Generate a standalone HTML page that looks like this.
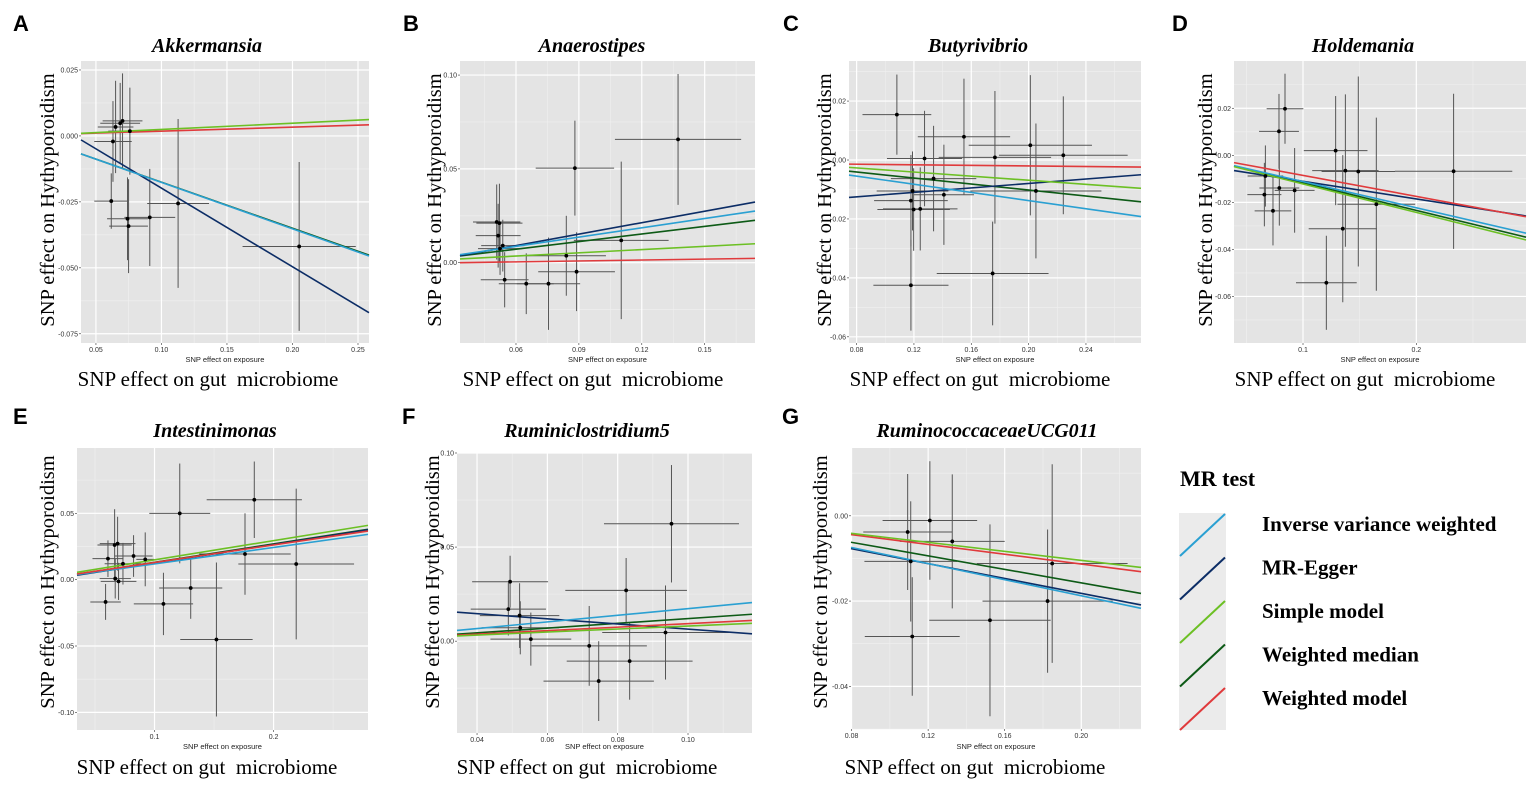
<!DOCTYPE html>
<html><head><meta charset="utf-8">
<style>
html,body{margin:0;padding:0;background:#fff;width:1535px;height:789px;overflow:hidden;}
svg{display:block;}
svg text{font-family:"Liberation Sans",sans-serif;}
.serif{font-family:"Liberation Serif",serif !important;white-space:pre;}
</style></head>
<body>
<svg id="fig" width="1535" height="789" viewBox="0 0 1535 789" xmlns="http://www.w3.org/2000/svg"></svg>
<script>
// ---- Panel A: Akkermansia ----
const aX=[0.065,0.0685,0.0703,0.0759,0.063,0.0617,0.0741,0.0749,0.0911,0.1127,0.2051];
const aY=[0.0034,0.0048,0.0057,0.0018,-0.0021,-0.0247,-0.0314,-0.0342,-0.0309,-0.0256,-0.0419];
const aXse=[0.0136,0.0152,0.0152,0.0165,0.0143,0.013,0.0156,0.0148,0.0194,0.0236,0.0432];
const aYse=[0.0175,0.0153,0.018,0.0165,0.0153,0.0105,0.0157,0.0178,0.0184,0.032,0.032];
const aLineStart=[-0.0068,-0.0015,0.001,-0.0068,0.0009];
const aLineEnd=[-0.0455,-0.067,0.0062,-0.0452,0.0042];
const aXticks=[0.05,0.10,0.15,0.20,0.25];
const aXlabels=["0.05","0.10","0.15","0.20","0.25"];
const aYticks=[-0.075,-0.05,-0.025,0,0.025];
const aYlabels=["-0.075","-0.050","-0.025","0.000","0.025"];
// ---- Panel B: Anaerostipes ----
const bX=[0.0508,0.0521,0.0515,0.0537,0.0524,0.0546,0.0649,0.0755,0.084,0.0881,0.0889,0.1102,0.1373];
const bY=[0.0217,0.0211,0.0144,0.0091,0.0075,-0.0091,-0.0112,-0.0112,0.0037,0.0504,-0.0048,0.0119,0.0657];
const bXse=[0.0113,0.011,0.0107,0.0103,0.0105,0.0114,0.0131,0.0151,0.0189,0.0187,0.0183,0.0226,0.0301];
const bYse=[0.02,0.021,0.017,0.0138,0.014,0.0147,0.0162,0.0246,0.0213,0.0253,0.021,0.042,0.0349];
const bLineStart=[0.0043,0.0037,0.002,0.0036,0.0];
const bLineEnd=[0.0275,0.0323,0.0101,0.0226,0.0023];
const bXticks=[0.06,0.09,0.12,0.15];
const bXlabels=["0.06","0.09","0.12","0.15"];
const bYticks=[0,0.05,0.10];
const bYlabels=["0.00","0.05","0.10"];
// ---- Panel C: Butyrivibrio ----
const cX=[0.1081,0.1274,0.1337,0.119,0.1179,0.1198,0.1244,0.1409,0.1179,0.1549,0.1765,0.1749,0.2012,0.2051,0.2242];
const cY=[0.0154,0.0005,-0.0063,-0.0105,-0.0138,-0.0168,-0.0166,-0.0118,-0.0425,0.0079,0.0009,-0.0385,0.005,-0.0105,0.0016];
const cXse=[0.024,0.0262,0.0298,0.025,0.0257,0.0253,0.026,0.021,0.0262,0.0322,0.0392,0.039,0.043,0.0457,0.0449];
const cYse=[0.0136,0.0162,0.0179,0.0134,0.0155,0.014,0.0141,0.017,0.0154,0.0197,0.0225,0.0176,0.0238,0.0229,0.02];
const cLineStart=[-0.0051,-0.0127,-0.0025,-0.0038,-0.0014];
const cLineEnd=[-0.0192,-0.005,-0.0096,-0.0142,-0.0024];
const cXticks=[0.08,0.12,0.16,0.20,0.24];
const cXlabels=["0.08","0.12","0.16","0.20","0.24"];
const cYticks=[-0.06,-0.04,-0.02,0,0.02];
const cYlabels=["-0.06","-0.04","-0.02","0.00","0.02"];
// ---- Panel D: Holdemania ----
const dX=[0.0841,0.0788,0.0668,0.0659,0.0791,0.0926,0.0735,0.1288,0.1374,0.1488,0.1647,0.1351,0.1206,0.2329];
const dY=[0.0198,0.0102,-0.0088,-0.0167,-0.0139,-0.0149,-0.0236,0.002,-0.0065,-0.0069,-0.0208,-0.0312,-0.0542,-0.0068];
const dXse=[0.0162,0.0176,0.0157,0.015,0.0176,0.0176,0.0162,0.0281,0.0293,0.0324,0.0343,0.0301,0.0268,0.0518];
const dYse=[0.0149,0.0159,0.013,0.0135,0.016,0.018,0.0147,0.0232,0.0324,0.0404,0.0368,0.0313,0.02,0.033];
const dLineStart=[-0.0044,-0.0065,-0.0048,-0.0045,-0.0031];
const dLineEnd=[-0.0331,-0.0258,-0.036,-0.0348,-0.0261];
const dXticks=[0.1,0.2];
const dXlabels=["0.1","0.2"];
const dYticks=[-0.06,-0.04,-0.02,0,0.02];
const dYlabels=["-0.06","-0.04","-0.02","0.00","0.02"];
// ---- Panel E: Intestinimonas ----
const eX=[0.0589,0.0609,0.0665,0.069,0.067,0.0698,0.0735,0.0824,0.0922,0.1212,0.1075,0.1304,0.152,0.176,0.1838,0.219];
const eY=[-0.0168,0.0158,0.0261,0.0271,0.0008,-0.0013,0.012,0.0178,0.0153,0.0499,-0.0183,-0.0063,-0.0451,0.0193,0.0602,0.0118];
const eXse=[0.0128,0.013,0.0144,0.015,0.0131,0.015,0.0154,0.016,0.0075,0.0256,0.0249,0.0265,0.0304,0.0384,0.04,0.0486];
const eYse=[0.0135,0.0138,0.027,0.0203,0.015,0.014,0.0157,0.0157,0.0203,0.0376,0.0235,0.0232,0.058,0.0307,0.0288,0.0568];
const eLineStart=[0.0038,0.0033,0.0055,0.004,0.0043];
const eLineEnd=[0.0341,0.0376,0.0409,0.0379,0.0366];
const eXticks=[0.1,0.2];
const eXlabels=["0.1","0.2"];
const eYticks=[-0.10,-0.05,0,0.05];
const eYlabels=["-0.10","-0.05","0.00","0.05"];
// ---- Panel F: Ruminiclostridium5 ----
const fX=[0.0494,0.0489,0.0521,0.0523,0.0553,0.0719,0.0746,0.0834,0.0824,0.0936,0.0953];
const fY=[0.0316,0.017,0.0136,0.0071,0.0011,-0.0025,-0.0212,-0.0106,0.027,0.0046,0.0624];
const fXse=[0.0108,0.0107,0.0113,0.011,0.0115,0.0164,0.0157,0.0179,0.0173,0.018,0.0192];
const fYse=[0.0138,0.014,0.0172,0.0141,0.0141,0.0212,0.0212,0.0205,0.0172,0.025,0.0312];
const fLineStart=[0.0057,0.0154,0.0028,0.0037,0.0032];
const fLineEnd=[0.0205,0.0039,0.0095,0.0143,0.011];
const fXticks=[0.04,0.06,0.08,0.10];
const fXlabels=["0.04","0.06","0.08","0.10"];
const fYticks=[0,0.05,0.10];
const fYlabels=["0.00","0.05","0.10"];
// ---- Panel G: RuminococcaceaeUCG011 ----
const gX=[0.1093,0.1209,0.1326,0.1109,0.1117,0.1523,0.1824,0.1848];
const gY=[-0.0038,-0.0011,-0.006,-0.0107,-0.0283,-0.0245,-0.02,-0.0112];
const gXse=[0.0232,0.0247,0.0274,0.0242,0.0248,0.0317,0.034,0.0394];
const gYse=[0.0136,0.0139,0.0157,0.0141,0.0139,0.0225,0.0168,0.0233];
const gLineStart=[-0.0074,-0.0077,-0.0041,-0.0062,-0.0044];
const gLineEnd=[-0.0217,-0.0209,-0.0121,-0.0182,-0.0131];
const gXticks=[0.08,0.12,0.16,0.20];
const gXlabels=["0.08","0.12","0.16","0.20"];
const gYticks=[-0.04,-0.02,0];
const gYlabels=["-0.04","-0.02","0.00"];

const methods=["Inverse variance weighted","MR-Egger","Simple model","Weighted median","Weighted model"];
const colors=["#2aa0d2","#0c2d66","#6cc024","#0d5a16","#e03a3c"];
const drawOrder=[3,1,0,4,2];

const NS="http://www.w3.org/2000/svg";
const svg=document.getElementById('fig');
function mk(tag,attrs,parent){const e=document.createElementNS(NS,tag);for(const k in attrs)e.setAttribute(k,attrs[k]);(parent||svg).appendChild(e);return e;}

const panels=[
 {id:'a',letter:'A',title:'Akkermansia',lx:13,ly:31,tx:207,ty:52,ytx:45,yty:200,sub:362,bot:386,bx:208,
  r:[81,61,369,343],xd:[0.0386,0.2584],yd:[-0.0785,0.0284],X:aX,Y:aY,XS:aXse,YS:aYse,L0:aLineStart,L1:aLineEnd,xt:aXticks,xl:aXlabels,yt:aYticks,yl:aYlabels},
 {id:'b',letter:'B',title:'Anaerostipes',lx:403,ly:31,tx:592,ty:52,ytx:432,yty:200,sub:362,bot:386,bx:593,
  r:[460,61,755,343],xd:[0.0333,0.174],yd:[-0.0428,0.1075],X:bX,Y:bY,XS:bXse,YS:bYse,L0:bLineStart,L1:bLineEnd,xt:bXticks,xl:bXlabels,yt:bYticks,yl:bYlabels},
 {id:'c',letter:'C',title:'Butyrivibrio',lx:783,ly:31,tx:978,ty:52,ytx:822,yty:200,sub:362,bot:386,bx:980,
  r:[849,61,1141,343],xd:[0.0747,0.2784],yd:[-0.0621,0.0336],X:cX,Y:cY,XS:cXse,YS:cYse,L0:cLineStart,L1:cLineEnd,xt:cXticks,xl:cXlabels,yt:cYticks,yl:cYlabels},
 {id:'d',letter:'D',title:'Holdemania',lx:1172,ly:31,tx:1363,ty:52,ytx:1203,yty:200,sub:362,bot:386,bx:1365,
  r:[1234,61,1526,343],xd:[0.0391,0.2968],yd:[-0.0798,0.0401],X:dX,Y:dY,XS:dXse,YS:dYse,L0:dLineStart,L1:dLineEnd,xt:dXticks,xl:dXlabels,yt:dYticks,yl:dYlabels},
 {id:'e',letter:'E',title:'Intestinimonas',lx:13,ly:424,tx:215,ty:437,ytx:45,yty:582,sub:749,bot:774,bx:207,
  r:[77,448,368,730],xd:[0.0349,0.2793],yd:[-0.1133,0.0992],X:eX,Y:eY,XS:eXse,YS:eYse,L0:eLineStart,L1:eLineEnd,xt:eXticks,xl:eXlabels,yt:eYticks,yl:eYlabels},
 {id:'f',letter:'F',title:'Ruminiclostridium5',lx:402,ly:424,tx:587,ty:437,ytx:430,yty:582,sub:749,bot:774,bx:587,
  r:[457,453,752,733],xd:[0.0343,0.1182],yd:[-0.0488,0.10],X:fX,Y:fY,XS:fXse,YS:fYse,L0:fLineStart,L1:fLineEnd,xt:fXticks,xl:fXlabels,yt:fYticks,yl:fYlabels},
 {id:'g',letter:'G',title:'RuminococcaceaeUCG011',lx:782,ly:424,tx:987,ty:437,ytx:818,yty:582,sub:749,bot:774,bx:975,
  r:[851,448,1141,729],xd:[0.0797,0.2312],yd:[-0.05,0.0159],X:gX,Y:gY,XS:gXse,YS:gYse,L0:gLineStart,L1:gLineEnd,xt:gXticks,xl:gXlabels,yt:gYticks,yl:gYlabels}
];

const clampN=(v,a,b)=>Math.max(a,Math.min(b,v));
panels.forEach(p=>{
  const [x0,y0,x1,y1]=p.r;
  const sxr=v=>x0+(v-p.xd[0])/(p.xd[1]-p.xd[0])*(x1-x0);
  const syr=v=>y1-(v-p.yd[0])/(p.yd[1]-p.yd[0])*(y1-y0);
  const sx=v=>clampN(sxr(v),x0,x1);
  const sy=v=>clampN(syr(v),y0,y1);
  const g=mk('g',{});
  
  
  const lt=mk('text',{x:p.lx,y:p.ly,'font-size':22,'font-weight':'bold',fill:'#000'},g);
  lt.textContent=p.letter;
  
  
  const tt=mk('text',{x:p.tx,y:p.ty,'font-size':20,'font-weight':'bold','font-style':'italic','text-anchor':'middle',class:'serif'},g);
  tt.textContent=p.title;
  
  
  const bg=mk('rect',{x:x0,y:y0,width:x1-x0,height:y1-y0,fill:'#e4e4e4'},g);
  
  
  const grid=mk('g',{},g);
  
  
  const xs=p.xt[1]-p.xt[0], ys=p.yt[1]-p.yt[0];
  for(let v=p.xt[0]-xs*4.5;v<p.xd[1]+xs;v+=xs){ if(v>p.xd[0]&&v<p.xd[1]) mk('line',{x1:sxr(v),x2:sxr(v),y1:y0,y2:y1,stroke:'#f0f0f0','stroke-width':0.6},grid);}
  for(let v=p.yt[0]-ys*4.5;v<p.yd[1]+ys;v+=ys){ if(v>p.yd[0]&&v<p.yd[1]) mk('line',{y1:syr(v),y2:syr(v),x1:x0,x2:x1,stroke:'#f0f0f0','stroke-width':0.6},grid);}
  p.xt.forEach((v,i)=>{
    mk('line',{x1:sxr(v),x2:sxr(v),y1:y0,y2:y1,stroke:'#fff','stroke-width':1.2},grid);
    mk('line',{x1:sxr(v),x2:sxr(v),y1:y1,y2:y1+2,stroke:'#333','stroke-width':0.6},g);
    const t=mk('text',{x:sxr(v),y:y1+9,'font-size':7,'text-anchor':'middle',fill:'#333'},g);
    t.textContent=p.xl[i];
    
    
  });
  p.yt.forEach((v,i)=>{
    mk('line',{y1:syr(v),y2:syr(v),x1:x0,x2:x1,stroke:'#fff','stroke-width':1.2},grid);
    mk('line',{y1:syr(v),y2:syr(v),x1:x0-2,x2:x0,stroke:'#333','stroke-width':0.6},g);
    const t=mk('text',{x:x0-3,y:syr(v)+2.5,'font-size':7,'text-anchor':'end',fill:'#333'},g);
    t.textContent=p.yl[i];
    
    
  });
  const marks=mk('g',{},g);
  p.X.forEach((xv,i)=>{
    const yv=p.Y[i];
    const eh=mk('line',{x1:sx(xv-p.XS[i]),x2:sx(xv+p.XS[i]),y1:sy(yv),y2:sy(yv),stroke:'#555','stroke-width':1},marks);
    
    
    const ev=mk('line',{x1:sx(xv),x2:sx(xv),y1:sy(yv-p.YS[i]),y2:sy(yv+p.YS[i]),stroke:'#555','stroke-width':1},marks);
    
    
  });
  drawOrder.forEach(m=>{
    const l=mk('line',{x1:sxr(p.xd[0]),x2:sxr(p.xd[1]),y1:sy(p.L0[m]),y2:sy(p.L1[m]),stroke:colors[m],'stroke-width':1.6},marks);
    
    
  });
  p.X.forEach((xv,i)=>{
    const c=mk('circle',{cx:sx(xv),cy:sy(p.Y[i]),r:1.9,fill:'#000'},marks);
    
    
  });
  const sub=mk('text',{x:(x0+x1)/2,y:p.sub,'font-size':7.5,'text-anchor':'middle',fill:'#222'},g);
  sub.textContent='SNP effect on exposure';
  
  
  const bt=mk('text',{x:p.bx,y:p.bot,'font-size':21,'text-anchor':'middle',class:'serif'},g);
  bt.textContent='SNP effect on gut  microbiome';
  
  
  const yt=mk('text',{x:0,y:0,'font-size':20.5,'text-anchor':'middle',class:'serif',transform:'translate('+(p.ytx+9)+','+p.yty+') rotate(-90)'},g);
  yt.textContent='SNP effect on Hythyporoidism';
  
  
});

// legend
const lg=mk('g',{});


const lt=mk('text',{x:1180,y:486,'font-size':22,'font-weight':'bold',class:'serif'},lg);
lt.textContent='MR test';


mk('rect',{x:1179,y:513,width:47,height:217,fill:'#ebebeb'},lg);
methods.forEach((m,i)=>{
  const top=513+i*43.5;
  const k=mk('line',{x1:1180,y1:top+43,x2:1225,y2:top+1,stroke:colors[i],'stroke-width':2},lg);
  
  
  const t=mk('text',{x:1262,y:top+18,'font-size':21,'font-weight':'bold',class:'serif'},lg);
  t.textContent=m;
  
  
});
</script>
</body></html>
